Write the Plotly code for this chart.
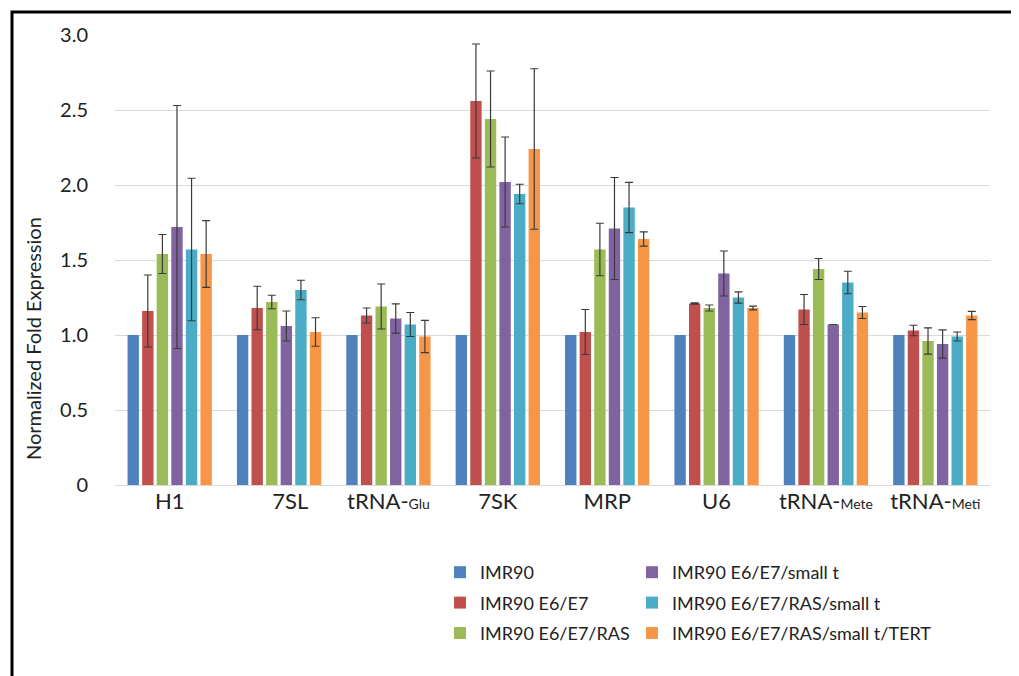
import plotly.graph_objects as go

categories = ["H1", "7SL", "tRNA-Glu", "7SK", "MRP", "U6", "tRNA-Mete", "tRNA-Meti"]
tick_labels = ["H1", "\u00a0\u00a0\u00a0\u00a07SL", "tRNA-<span style='font-size:14px'>Glu</span>", "7SK", "MRP", "U6",
               "tRNA-<span style='font-size:14px'>Mete</span>", "tRNA-<span style='font-size:14px'>Meti</span>"]

series_names = ["IMR90", "IMR90 E6/E7", "IMR90 E6/E7/RAS", "IMR90 E6/E7/small t",
                "IMR90 E6/E7/RAS/small t", "IMR90 E6/E7/RAS/small t/TERT"]

imr90 = [1.0, 1.0, 1.0, 1.0, 1.0, 1.0, 1.0, 1.0]
imr90_err = [0, 0, 0, 0, 0, 0, 0, 0]
e6e7 = [1.16, 1.18, 1.13, 2.56, 1.02, 1.21, 1.17, 1.03]
e6e7_err = [0.24, 0.145, 0.05, 0.38, 0.15, 0.004, 0.10, 0.035]
ras = [1.54, 1.22, 1.19, 2.44, 1.57, 1.18, 1.44, 0.96]
ras_err = [0.13, 0.045, 0.15, 0.32, 0.175, 0.02, 0.07, 0.087]
small_t = [1.72, 1.06, 1.11, 2.02, 1.71, 1.41, 1.07, 0.94]
small_t_err = [0.81, 0.10, 0.097, 0.30, 0.34, 0.15, 0, 0.094]
ras_small_t = [1.57, 1.30, 1.07, 1.94, 1.85, 1.25, 1.35, 0.99]
ras_small_t_err = [0.475, 0.065, 0.08, 0.065, 0.167, 0.037, 0.075, 0.03]
tert = [1.54, 1.02, 0.99, 2.24, 1.64, 1.18, 1.15, 1.13]
tert_err = [0.222, 0.095, 0.107, 0.535, 0.048, 0.013, 0.04, 0.027]

values = [imr90, e6e7, ras, small_t, ras_small_t, tert]
errors = [imr90_err, e6e7_err, ras_err, small_t_err, ras_small_t_err, tert_err]
colors = ["#4F81BD", "#C0504D", "#9BBB59", "#8064A2", "#4BACC6", "#F79646"]
legends = ["legend", "legend", "legend", "legend2", "legend2", "legend2"]

y_tickvals = [0, 0.5, 1.0, 1.5, 2.0, 2.5, 3.0]
y_ticktext = ["0", "0.5", "1.0", "1.5", "2.0", "2.5", "3.0"]

FONT = "Lato"
OFF = 8  # page body margin

# target pixel geometry (window coordinates)
PL, PR, PT, PB = 115, 990, 35, 485
W, H = 1019 - OFF, 676 - OFF


def px_x(x):
    return (x - PL) / (PR - PL)


def px_y(y):
    return (PB - y) / (PB - PT)


fig = go.Figure()
for i, name in enumerate(series_names):
    show_err = any(e > 0 for e in errors[i])
    fig.add_trace(go.Bar(
        x=categories, y=values[i], name=name,
        marker=dict(color=colors[i], line=dict(width=0)),
        error_y=dict(type="data", array=errors[i], visible=show_err,
                     color="#3A3A3A", thickness=1.2, width=4),
        legend=legends[i], legendgroup=name,
    ))

fig.update_layout(
    width=W, height=H,
    paper_bgcolor="white", plot_bgcolor="white",
    margin=dict(l=PL - OFF, r=W - (PR - OFF), t=PT - OFF, b=H - (PB - OFF)),
    barmode="group", bargap=0.2, bargroupgap=0.22,
    font=dict(family=FONT, color="#222222"),
    xaxis=dict(
        tickvals=categories, ticktext=tick_labels,
        tickfont=dict(size=22, family=FONT, color="#222222"),
        showgrid=False, showline=True, linecolor="#D9D9D9", linewidth=1,
        ticks="", range=[-0.5, 7.5], ticklabelstandoff=-3,
    ),
    yaxis=dict(
        range=[0, 3.0], tickvals=y_tickvals, ticktext=y_ticktext,
        tickfont=dict(size=20, family=FONT, color="#222222"),
        showgrid=True, gridcolor="#D9D9D9", gridwidth=1,
        zeroline=False, showline=False, ticks="", ticklabelstandoff=26,
    ),
    legend=dict(
        x=px_x(440), xanchor="left", y=px_y(554), yanchor="top",
        font=dict(size=18, family=FONT, color="#222222"),
        tracegroupgap=4, bgcolor="rgba(0,0,0,0)", orientation="v",
    ),
    legend2=dict(
        x=px_x(632), xanchor="left", y=px_y(554), yanchor="top",
        font=dict(size=18, family=FONT, color="#222222"),
        tracegroupgap=4, bgcolor="rgba(0,0,0,0)", orientation="v",
    ),
    annotations=[dict(
        text="Normalized Fold Expression", textangle=-90,
        xref="paper", yref="paper",
        x=px_x(33), y=px_y(339),
        xanchor="center", yanchor="middle", showarrow=False,
        font=dict(size=20, family=FONT, color="#222222"),
    )],
    shapes=[dict(
        type="rect", xref="paper", yref="paper",
        x0=px_x(12), x1=1.3, y0=-0.8, y1=px_y(12),
        line=dict(color="black", width=3), fillcolor="rgba(0,0,0,0)", layer="above",
    )],
)

fig.write_html("out.html")
